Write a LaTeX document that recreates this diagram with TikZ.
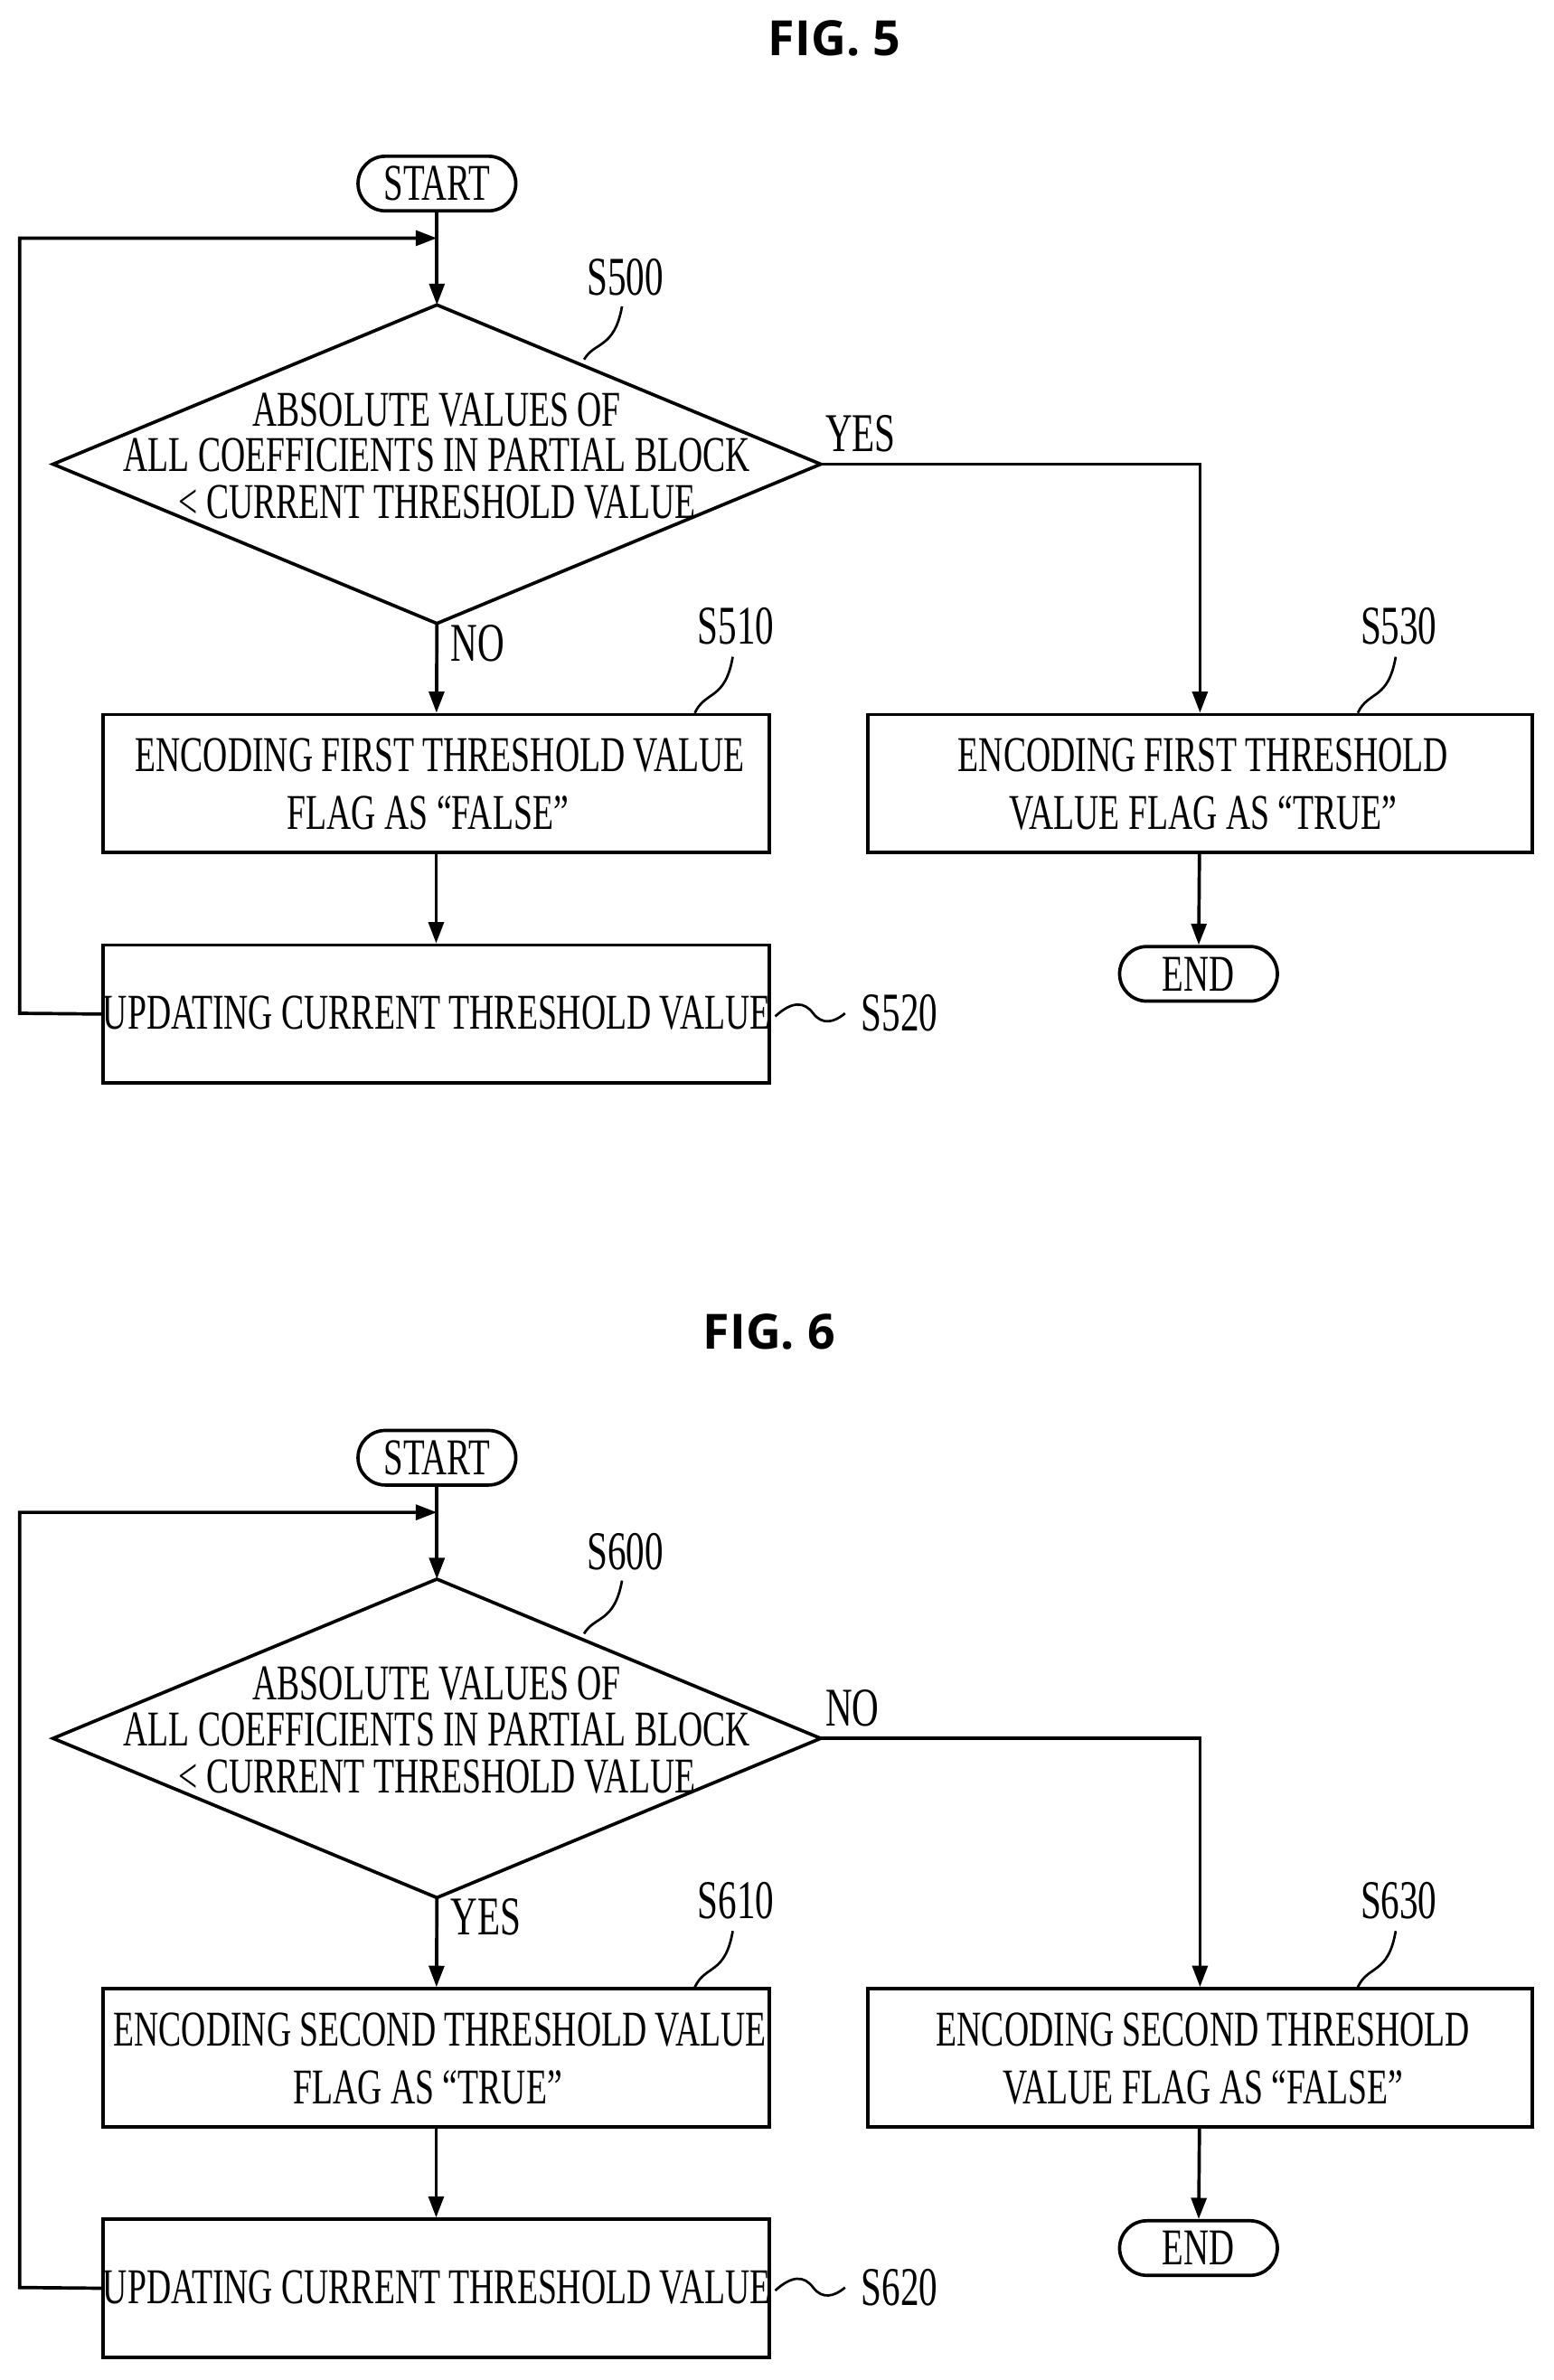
\documentclass[tikz,border=0pt]{standalone}
\usepackage{fontspec}
\usepackage{graphicx}
\setmainfont{Liberation Serif}
\newfontfamily\titlefont{Open Sans}
\usetikzlibrary{shapes.geometric,arrows.meta}
\newcommand{\nT}[1]{\scalebox{0.68}[1]{#1}}
\begin{document}
\begin{tikzpicture}[x=0.5pt,y=-0.5pt,line width=1.1pt,
  txt/.style={font=\fontsize{16.5}{18}\selectfont,inner sep=0pt},
  lbl/.style={font=\fontsize{18}{20}\selectfont,inner sep=0pt},
  ttl/.style={font=\titlefont\bfseries\fontsize{16}{19}\selectfont,inner sep=0pt},
  term/.style={draw,rounded corners=9pt,minimum width=52pt,minimum height=18pt,inner sep=0pt,font=\fontsize{17}{20}\selectfont},
  arr/.style={-{Triangle[length=7pt,width=5pt]}}]
\useasboundingbox (0,0) rectangle (1024,1569);
\foreach \oy/\f/\t/\ty/\ya/\yb/\s/\la/\lb/\ra/\rb in
 {0/5/550/25/YES/NO/5/FIRST/{FLAG AS ``FALSE''}/FIRST/{VALUE FLAG AS ``TRUE''},
  840/6/507/38/NO/YES/6/SECOND/{FLAG AS ``TRUE''}/SECOND/{VALUE FLAG AS ``FALSE''}}{
\begin{scope}[yshift=-\oy*0.5pt]
\node[ttl] (title\f) at (\t,\ty) {FIG. \f};
\node[term] (start\f) at (288,121) {\nT{START}};
\path[draw] (288,201) coordinate (dt\f) -- (541,306) coordinate (dr\f) -- (288,411) coordinate (db\f) -- (35,306) coordinate (dl\f) -- cycle;
\node[txt] at (288,270) {\nT{ABSOLUTE VALUES OF}};
\node[txt] at (288,300) {\nT{ALL COEFFICIENTS IN PARTIAL BLOCK}};
\node[txt] at (288,331) {\nT{< CURRENT THRESHOLD VALUE}};
\node[draw,minimum width=219.5pt,minimum height=45.5pt] (b1\f) at (287.5,516.5) {};
\node[txt] at (290,498) {\nT{ENCODING \la\ THRESHOLD VALUE}};
\node[txt] at (282,536) {\nT{\lb}};
\node[draw,minimum width=219.5pt,minimum height=45.5pt] (b2\f) at (287.5,668.5) {};
\node[txt] at (288,668) {\nT{UPDATING CURRENT THRESHOLD VALUE}};
\node[draw,minimum width=219pt,minimum height=45.5pt] (b3\f) at (791,516.5) {};
\node[txt] at (793,498) {\nT{ENCODING \ra\ THRESHOLD}};
\node[txt] at (793,536) {\nT{\rb}};
\node[term] (end\f) at (790,642) {\nT{END}};
\draw[arr] (start\f) -- (dt\f);
\draw[arr] (db\f) -- (b1\f);
\draw[arr] (b1\f) -- (b2\f);
\draw[arr] (dr\f) -| (b3\f);
\draw[arr] (b3\f) -- (end\f);
\coordinate (c\f) at (288,157);
\draw[arr] (b2\f.west) -- (13,668) -- (13,157) -- (c\f);
\node[lbl,anchor=west] at (543,286) {\nT{\ya}};
\node[lbl,anchor=west] at (296,424) {\nT{\yb}};
\node[lbl] at (412,183) {\nT{S\s00}};
\node[lbl] at (485,413) {\nT{S\s10}};
\node[lbl] at (593,668) {\nT{S\s20}};
\node[lbl] at (922,413) {\nT{S\s30}};
\draw[line width=0.8pt] (385,237) .. controls (392,225) and (405,230) .. (410,202);
\draw[line width=0.8pt] (458,470) .. controls (465,455) and (478,462) .. (483,433);
\draw[line width=0.8pt] (895,470) .. controls (902,455) and (915,462) .. (920,433);
\draw[line width=0.8pt] (511,670) .. controls (522,660) and (530,660) .. (536,668) .. controls (542,676) and (550,674) .. (557,668);
\end{scope}}
\end{tikzpicture}
\end{document}
